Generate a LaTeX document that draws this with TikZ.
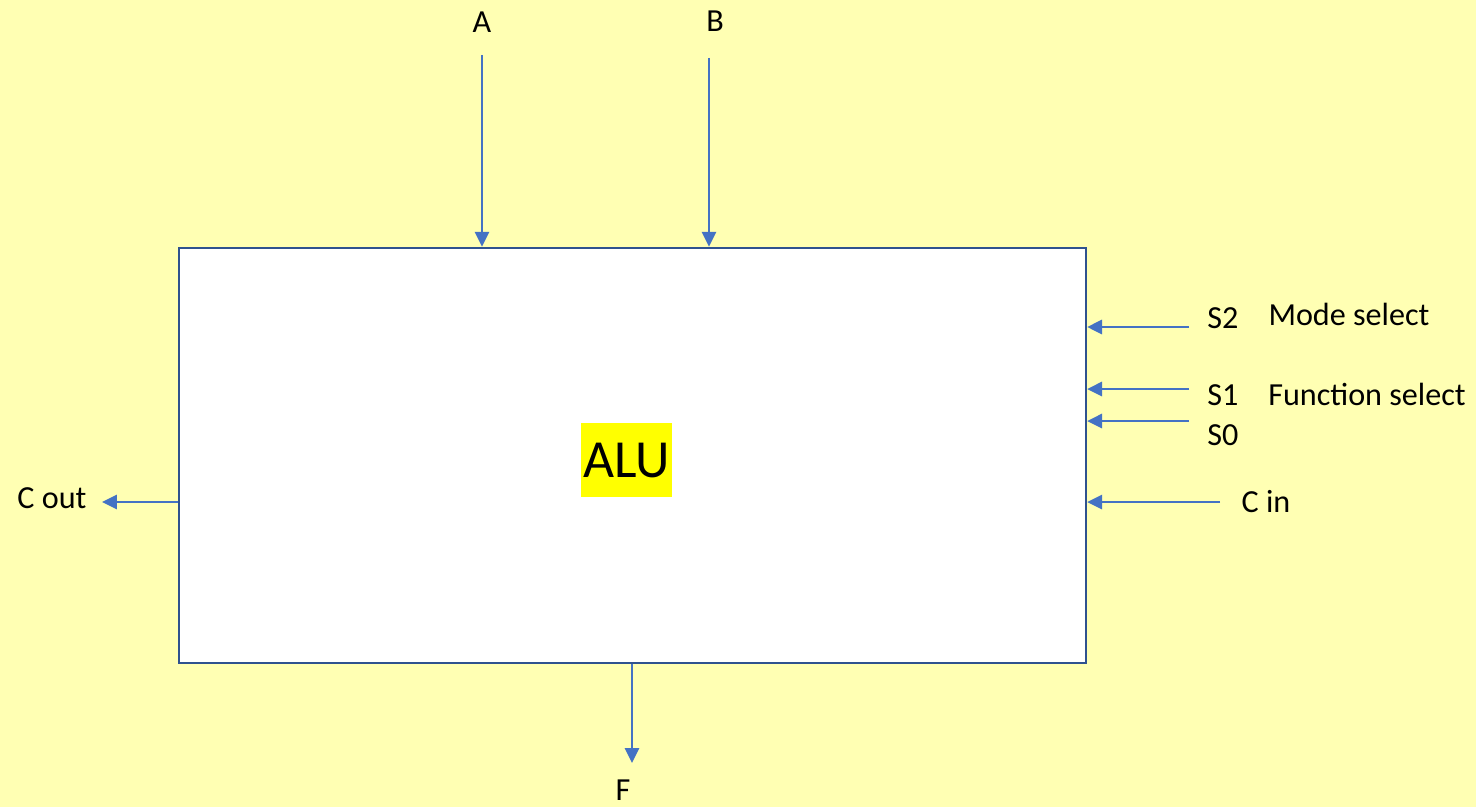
\documentclass[tikz,border=0pt]{standalone}
\usepackage{fontspec}
\setmainfont{Carlito}
\usetikzlibrary{positioning}
\usetikzlibrary{calc}
\usetikzlibrary{arrows.meta}
\definecolor{bgyellow}{RGB}{255,255,179}
\definecolor{sigblue}{RGB}{68,114,196}
\definecolor{boxblue}{RGB}{47,82,143}
\definecolor{hilite}{RGB}{255,255,0}

\tikzset{
    sig/.style={sigblue, line width=1.6pt, -{Triangle[length=0.3cm, width=0.28cm]}},
    lbl/.style={anchor=base, inner sep=0pt, font=\fontsize{18.3}{21}\selectfont},
}

\begin{document}
\begin{tikzpicture}[x=0.02cm, y=-0.02cm]
    % page and background
    \fill[bgyellow] (0,0) rectangle (1476,807);
    \useasboundingbox (0,0) rectangle (1476,807);

    % the ALU block
    \node[draw=boxblue, line width=1.3pt, fill=white, minimum width=18.14cm, minimum height=8.3cm, inner sep=0pt] (alu) at (632.5,455.5) {};
    \node[fill=hilite, anchor=base, inner xsep=0.04cm, inner ysep=0pt, text height=1.08cm, text depth=0.4cm, font=\fontsize{30.5}{34}\selectfont] (alutxt) at (626.5,477) {ALU};

    % operand inputs
    \node[lbl] (A) at (482,33) {A};
    \node[lbl] (B) at (715,32) {B};
    \coordinate (aIn) at (482,55);
    \coordinate (bIn) at (709,58);
    \draw[sig] (aIn) -- (aIn |- alu.north);
    \draw[sig] (bIn) -- (bIn |- alu.north);

    % select lines
    \node[lbl] (S2) at (1223,328) {S2};
    \node[lbl] (S1) at (1223,405) {S1};
    \node[lbl] (S0) at (1223,445) {S0};
    \node[lbl] (mode) at (1349,325) {Mode select};
    \node[lbl] (func) at (1367,405) {Function select};
    \coordinate (s2In) at (1189,327);
    \coordinate (s1In) at (1189,389);
    \coordinate (s0In) at (1189,421);
    \draw[sig] (s2In) -- (s2In -| alu.east);
    \draw[sig] (s1In) -- (s1In -| alu.east);
    \draw[sig] (s0In) -- (s0In -| alu.east);

    % carry in / carry out
    \node[lbl] (cin) at (1266,512) {C in};
    \coordinate (cIn) at (1220,502);
    \draw[sig] (cIn) -- (cIn -| alu.east);
    \node[lbl] (cout) at (52,508) {C out};
    \coordinate (cOut) at (102,502);
    \draw[sig] (cOut -| alu.west) -- (cOut);

    % result
    \node[lbl] (F) at (623,800) {F};
    \coordinate (fOut) at (632,763);
    \draw[sig] (fOut |- alu.south) -- (fOut);
\end{tikzpicture}
\end{document}
